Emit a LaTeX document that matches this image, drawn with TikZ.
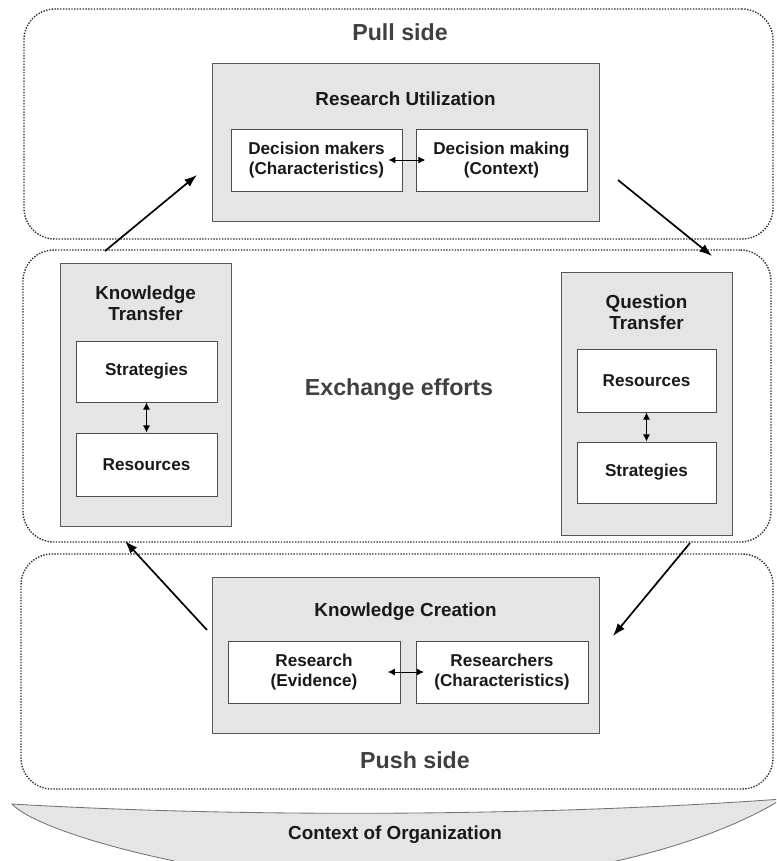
\documentclass[tikz,border=0pt]{standalone}
\usepackage{fontspec}
\setmainfont{Liberation Sans}
\usetikzlibrary{arrows.meta,positioning}

\tikzset{
  zone/.style={draw=black!80,densely dotted,line width=1pt,rounded corners=22pt,inner sep=0pt},
  group/.style={draw=black!65,fill=black!10,line width=0.7pt,inner sep=0pt},
  part/.style={draw=black!70,fill=white,line width=0.7pt,inner sep=0pt,align=center,
    text=black!90,font=\bfseries\fontsize{12.2}{14.2}\selectfont},
  title/.style={align=center,text=black!90,font=\bfseries\fontsize{13.4}{14.9}\selectfont},
  sidelabel/.style={text=black!75,font=\bfseries\fontsize{16.5}{19}\selectfont},
  boxsize/.style 2 args={minimum width=#1*0.025cm,minimum height=#2*0.025cm},
  flow/.style={-{Latex[length=9pt,width=6.5pt]},line width=1.2pt},
  link/.style={{Latex[length=5pt,width=5pt]}-{Latex[length=5pt,width=5pt]},line width=0.7pt},
}

\begin{document}
\begin{tikzpicture}[x=0.025cm,y=-0.025cm]
\useasboundingbox (0,0) rectangle (776,861);

% context of organization
\begin{scope}
\clip (0,0) rectangle (776,861);
\draw[draw=black!55,fill=black!10,line width=0.6pt]
  (12,804) .. controls (250,818) and (550,816) .. (782,799)
  .. controls (700,850) and (550,885) .. (394,885)
  .. controls (230,885) and (40,835) .. (12,804) -- cycle;
\end{scope}
\node[title] (context) at (395,835) {Context of Organization};

% the three zones
\node[zone,boxsize={749}{230}] (pull) at (398.5,124) {};
\node[sidelabel] (pulllbl) at (400,32) {Pull side};
\node[zone,boxsize={748}{292}] (exch) at (397,396) {};
\node[sidelabel] (exchlbl) at (399,390) {Exchange efforts};
\node[zone,boxsize={752}{235}] (push) at (397,671.5) {};
\node[sidelabel] (pushlbl) at (415,760) {Push side};

% research utilization
\node[group,boxsize={387}{158}] (ru) at (405.5,142) {};
\node[title] (rutitle) at (405.5,99) {Research Utilization};
\node[part,boxsize={171}{62}] (dmakers) at (316.5,160) {Decision makers\\(Characteristics)};
\node[part,boxsize={171}{62},right=0.325cm of dmakers] (dmaking) {Decision making\\(Context)};
\draw[link,shorten <=-10pt,shorten >=-7pt] (dmakers) -- (dmaking);

% knowledge transfer
\node[group,boxsize={171}{263}] (kt) at (145.5,394.5) {};
\node[title] (kttitle) at (145.5,303.5) {Knowledge\\Transfer};
\node[part,boxsize={141}{61}] (ktstrat) at (146.5,371.5) {Strategies};
\node[part,boxsize={141}{63}] (ktres) at (146.5,464.5) {Resources};
\draw[link] (ktstrat) -- (ktres);

% question transfer
\node[group,boxsize={171}{263}] (qt) at (646.5,403.5) {};
\node[title] (qttitle) at (646.5,312.5) {Question\\Transfer};
\node[part,boxsize={139}{63}] (qtres) at (646.5,380.5) {Resources};
\node[part,boxsize={139}{61}] (qtstrat) at (646.5,472.5) {Strategies};
\draw[link] (qtres) -- (qtstrat);

% knowledge creation
\node[group,boxsize={387}{156}] (kc) at (405.5,655) {};
\node[title] (kctitle) at (405.5,612) {Knowledge Creation};
\node[part,boxsize={172}{62}] (research) at (314,672) {Research\\(Evidence)};
\node[part,boxsize={172}{62},right=0.375cm of research] (researchers) {Researchers\\(Characteristics)};
\draw[link,shorten <=-9pt,shorten >=-6pt] (research) -- (researchers);

% the cycle
\coordinate (kt-out) at (105,251);
\coordinate (ru-in) at (197,175);
\coordinate (ru-out) at (618,180);
\coordinate (qt-in) at (712,256);
\coordinate (qt-out) at (690,543);
\coordinate (kc-in) at (613,636);
\coordinate (kc-out) at (207,630);
\coordinate (kt-in) at (125,541);
\draw[flow] (kt-out) -- (ru-in);
\draw[flow] (ru-out) -- (qt-in);
\draw[flow] (qt-out) -- (kc-in);
\draw[flow] (kc-out) -- (kt-in);
\end{tikzpicture}
\end{document}
